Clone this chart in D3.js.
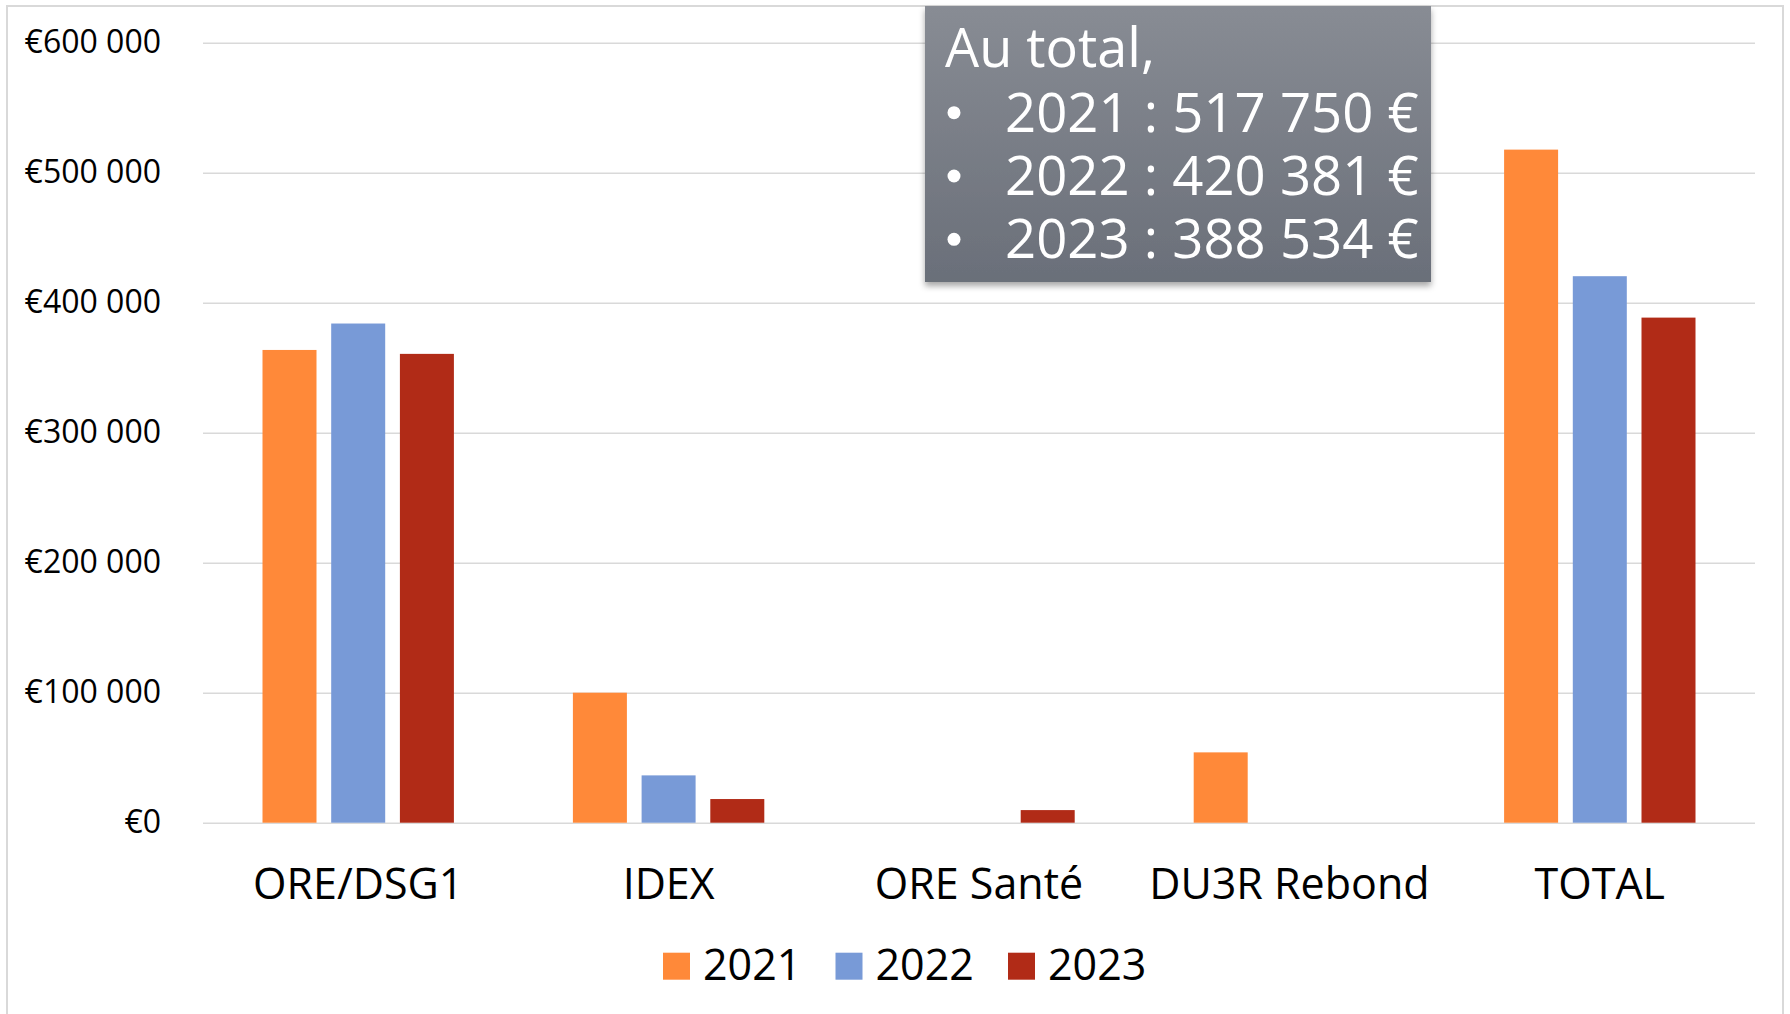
<!DOCTYPE html>
<html>
<head>
<meta charset="utf-8">
<script src="https://cdn.jsdelivr.net/npm/d3@7.9.0/dist/d3.min.js"></script>
<style>
  body { margin: 0; background: #fff; }
  svg { display: block; font-family: 'Open Sans', sans-serif; }
</style>
</head>
<body>
<svg id="chart" width="1790" height="1014"></svg>
<script>
const categories = ['ORE/DSG1', 'IDEX', 'ORE Santé', 'DU3R Rebond', 'TOTAL'];
const years = ['2021', '2022', '2023'];
const values2021 = [363650, 100000, 0, 54100, 517750];
const values2022 = [383981, 36400, 0, 0, 420381];
const values2023 = [360634, 18200, 9700, 0, 388534];
const yTicks = [0, 100000, 200000, 300000, 400000, 500000, 600000];
const noteTitle = 'Au total,';
const totals = [517750, 420381, 388534];

const colors = { '2021': '#ff8939', '2022': '#789ad7', '2023': '#b12b17' };

const locale = d3.formatLocale({ decimal: ',', thousands: ' ', grouping: [3], currency: ['€', ''] });
const fmtEuro = locale.format('$,');
const fmtNum = locale.format(',');

const svg = d3.select('#chart');

// outer frame
svg.append('rect')
  .attr('x', 7).attr('y', 6)
  .attr('width', 1776).attr('height', 1030)
  .attr('fill', '#fff')
  .attr('stroke', '#d9d9d9')
  .attr('stroke-width', 2);

const plotLeft = 203, plotRight = 1755, plotTop = 42.7, plotBottom = 822.7;

const x0 = d3.scaleBand().domain(categories).range([plotLeft, plotRight]);
const x1 = d3.scaleBand().domain(years)
  .range([59.5, x0.bandwidth() - 59.5])
  .paddingInner(0.214);
const y = d3.scaleLinear().domain([0, 600000]).range([plotBottom, plotTop]);

// y axis + gridlines
const yAxis = svg.append('g')
  .attr('transform', `translate(${plotLeft},0)`)
  .call(d3.axisLeft(y).tickValues(yTicks).tickFormat(fmtEuro)
    .tickSize(-(plotRight - plotLeft)).tickPadding(42));
yAxis.select('.domain').remove();
yAxis.selectAll('.tick line').attr('stroke', '#d9d9d9').attr('stroke-width', 1.6);
yAxis.selectAll('.tick text')
  .attr('font-size', 32)
  .attr('font-family', 'Open Sans')
  .attr('fill', '#000')
  .attr('dy', '0.32em');

// bars
const series = years.map((yr, i) => ({ year: yr, values: [values2021, values2022, values2023][i] }));
const groups = svg.append('g').selectAll('g')
  .data(categories)
  .join('g')
  .attr('transform', (d) => `translate(${x0(d)},0)`);

groups.selectAll('rect')
  .data((c, ci) => series.map((s) => ({ year: s.year, value: s.values[ci] })))
  .join('rect')
  .attr('x', (d) => x1(d.year))
  .attr('width', x1.bandwidth())
  .attr('y', (d) => y(d.value))
  .attr('height', (d) => y(0) - y(d.value))
  .attr('fill', (d) => colors[d.year]);

// category axis
const xAxis = svg.append('g')
  .attr('transform', `translate(0,${plotBottom})`)
  .call(d3.axisBottom(x0).tickSize(0).tickPadding(46));
xAxis.select('.domain').remove();
xAxis.selectAll('.tick text')
  .attr('font-size', 43)
  .attr('font-family', 'Open Sans')
  .attr('fill', '#000');

// legend
const legend = svg.append('g').selectAll('g')
  .data(years)
  .join('g')
  .attr('transform', (d, i) => `translate(${663 + i * 172.5},952.7)`);
legend.append('rect')
  .attr('width', 27).attr('height', 27)
  .attr('fill', (d) => colors[d]);
legend.append('text')
  .attr('x', 40).attr('y', 27.3)
  .attr('font-size', 43)
  .attr('fill', '#000')
  .text((d) => d);

// annotation box
const defs = svg.append('defs');
const grad = defs.append('linearGradient').attr('id', 'boxgrad')
  .attr('x1', 0).attr('y1', 0).attr('x2', 0).attr('y2', 1);
grad.append('stop').attr('offset', '0%').attr('stop-color', '#888c94');
grad.append('stop').attr('offset', '100%').attr('stop-color', '#6a6f79');
const shadow = defs.append('filter').attr('id', 'shadow')
  .attr('x', '-10%').attr('y', '-10%').attr('width', '120%').attr('height', '130%');
shadow.append('feDropShadow')
  .attr('dx', 0).attr('dy', 4).attr('stdDeviation', 3)
  .attr('flood-color', '#000').attr('flood-opacity', 0.35);

const note = svg.append('g');
note.append('rect')
  .attr('x', 925).attr('y', 6)
  .attr('width', 506).attr('height', 276)
  .attr('fill', 'url(#boxgrad)')
  .attr('filter', 'url(#shadow)');
note.append('text')
  .attr('x', 945).attr('y', 67)
  .attr('font-size', 54)
  .attr('fill', '#fff')
  .text(noteTitle);

const rows = note.selectAll('g.row')
  .data(years)
  .join('g')
  .attr('class', 'row')
  .attr('transform', (d, i) => `translate(0,${131.7 + i * 63.3})`);
rows.append('circle')
  .attr('cx', 954).attr('cy', -19)
  .attr('r', 6.5)
  .attr('fill', '#fff');
rows.append('text')
  .attr('x', 1005)
  .attr('font-size', 54.5)
  .attr('fill', '#fff')
  .text((d, i) => `${d} : ${fmtNum(totals[i])} €`);
</script>
</body>
</html>
